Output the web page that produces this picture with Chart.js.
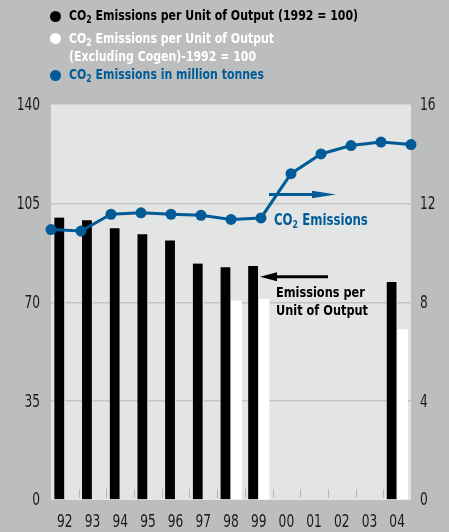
<!DOCTYPE html>
<html>
<head>
<meta charset="utf-8">
<script src="https://cdn.jsdelivr.net/npm/chart.js@4"></script>
<style>
  html, body { margin: 0; padding: 0; background: #bbbebd; }
  #wrap { position: relative; width: 449px; height: 532px; overflow: hidden; }
  canvas { position: absolute; left: 0; top: 0; }
  .txt {
    position: absolute;
    font-family: "DejaVu Sans Condensed", "DejaVu Sans", sans-serif;
    font-stretch: condensed;
    font-weight: bold;
    font-size: 14px;
    line-height: 18px;
    white-space: nowrap;
    transform: scaleX(0.87);
    transform-origin: 0 0;
  }
  .txt sub { font-size: 10px; vertical-align: -3px; line-height: 0; }
  .dot {
    position: absolute;
    width: 11px; height: 11px;
    border-radius: 50%;
  }
</style>
</head>
<body>
<div id="wrap">
  <canvas id="co2Chart" width="449" height="532"></canvas>

  <!-- legend -->
  <div class="dot" style="left:50px; top:11px; background:#000;"></div>
  <div class="txt" style="left:69px; top:6px; color:#000;">CO<sub>2</sub> Emissions per Unit of Output (1992 = 100)</div>
  <div class="dot" style="left:50px; top:33px; background:#fff;"></div>
  <div class="txt" style="left:69px; top:29px; color:#fff;">CO<sub>2</sub> Emissions per Unit of Output<br>(Excluding Cogen)-1992 = 100</div>
  <div class="dot" style="left:50px; top:70px; background:#005b97;"></div>
  <div class="txt" style="left:69px; top:65px; color:#005b97;">CO<sub>2</sub> Emissions in million tonnes</div>

  <!-- callouts -->
  <div class="txt" style="left:274px; top:211px; color:#005b97; font-size:15px;">CO<sub>2</sub> Emissions</div>
  <div class="txt" style="left:276px; top:283px; color:#000; font-size:14.5px;">Emissions per<br>Unit of Output</div>
</div>

<script>
// years on the x axis
const years = ["92", "93", "94", "95", "96", "97", "98", "99", "00", "01", "02", "03", "04"];

// index, 1992 = 100
const perUnitOutput = [100, 99, 96.2, 94.1, 91.9, 83.7, 82.4, 82.8, null, null, null, null, 77.2];
const perUnitExclCogen = [null, null, null, null, null, null, 70.5, 71.1, null, null, null, null, 60.3];

// million tonnes
const co2Tonnes = [10.94, 10.88, 11.56, 11.62, 11.56, 11.52, 11.35, 11.41, 13.2, 14.0, 14.34, 14.48, 14.38];

const leftTicks = [0, 35, 70, 105, 140];
const rightTicks = [0, 4, 8, 12, 16];

const BLUE = "#005b97";
const PANEL = "#e3e5e4";
const TICK_FONT = "17px 'DejaVu Sans Condensed', 'DejaVu Sans', sans-serif";
const SQUEEZE = 0.8; // horizontal squeeze for the narrow tick figures

// light panel behind the plot + small boundary ticks along the bottom
const panelPlugin = {
  id: "panel",
  beforeDraw(chart) {
    const { ctx, chartArea } = chart;
    ctx.save();
    ctx.fillStyle = PANEL;
    ctx.fillRect(chartArea.left, chartArea.top, chartArea.right - chartArea.left, chartArea.bottom - chartArea.top);
    ctx.restore();
  },
  beforeDatasetsDraw(chart) {
    const { ctx, chartArea, scales } = chart;
    ctx.save();
    ctx.strokeStyle = "#b3b6b5";
    ctx.lineWidth = 1;
    for (let i = 1; i < years.length; i++) {
      const x = Math.round((scales.x.getPixelForTick(i - 1) + scales.x.getPixelForTick(i)) / 2) + 0.5;
      ctx.beginPath();
      ctx.moveTo(x, chartArea.bottom - 11);
      ctx.lineTo(x, chartArea.bottom - 2);
      ctx.stroke();
    }
    ctx.restore();
  },
};

// tick labels, drawn squeezed so the figures come out narrow
function squeezedText(ctx, text, x, y, align) {
  ctx.save();
  ctx.translate(x, y);
  ctx.scale(SQUEEZE, 1);
  ctx.textAlign = align;
  ctx.fillText(text, 0, 0);
  ctx.restore();
}

const tickPlugin = {
  id: "tickLabels",
  afterDraw(chart) {
    const { ctx, chartArea, scales } = chart;
    ctx.save();
    ctx.font = TICK_FONT;
    ctx.fillStyle = "#1a1a1a";
    ctx.textBaseline = "middle";
    leftTicks.forEach((v) => squeezedText(ctx, String(v), chartArea.left - 11, scales.y.getPixelForValue(v) + 1, "right"));
    rightTicks.forEach((v) => squeezedText(ctx, String(v), chartArea.right + 9, scales.y1.getPixelForValue(v) + 1, "left"));
    years.forEach((label, i) => squeezedText(ctx, label, scales.x.getPixelForTick(i), chartArea.bottom + 23, "center"));
    ctx.restore();
  },
};

// callout arrows
function arrow(ctx, x1, x2, y, color, headLen, headHalf) {
  // x2 is the tip
  const dir = Math.sign(x2 - x1);
  ctx.strokeStyle = color;
  ctx.fillStyle = color;
  ctx.lineWidth = 3;
  ctx.beginPath();
  ctx.moveTo(x1, y);
  ctx.lineTo(x2 - dir * headLen, y);
  ctx.stroke();
  ctx.beginPath();
  ctx.moveTo(x2, y);
  ctx.lineTo(x2 - dir * headLen, y - headHalf);
  ctx.lineTo(x2 - dir * headLen, y + headHalf);
  ctx.closePath();
  ctx.fill();
}

const arrowPlugin = {
  id: "arrows",
  afterDatasetsDraw(chart) {
    const { ctx, scales } = chart;
    ctx.save();
    arrow(ctx, 269, 336, scales.y1.getPixelForValue(12.36), BLUE, 24, 3.7);
    arrow(ctx, 328, 260, scales.y.getPixelForValue(79.0), "#000", 17, 4.5);
    ctx.restore();
  },
};

const ctx = document.getElementById("co2Chart").getContext("2d");
new Chart(ctx, {
  type: "bar",
  data: {
    labels: years,
    datasets: [
      {
        type: "line",
        label: "CO2 Emissions in million tonnes",
        data: co2Tonnes,
        xAxisID: "x2",
        yAxisID: "y1",
        borderColor: BLUE,
        backgroundColor: BLUE,
        borderWidth: 3,
        pointRadius: 5.5,
        pointBackgroundColor: BLUE,
        pointBorderWidth: 0,
        tension: 0,
        clip: false,
        order: 0,
      },
      {
        type: "bar",
        label: "CO2 Emissions per Unit of Output (1992 = 100)",
        data: perUnitOutput,
        backgroundColor: "#000",
        // thin panel-coloured strip on the inner side keeps the pair apart
        borderColor: PANEL,
        borderWidth: { top: 0, right: 1, bottom: 0, left: 0 },
        borderSkipped: false,
        barThickness: 10.5,
        xAxisID: "x",
        yAxisID: "y",
        order: 1,
      },
      {
        type: "bar",
        label: "CO2 Emissions per Unit of Output (Excluding Cogen)-1992 = 100",
        data: perUnitExclCogen,
        backgroundColor: "#fff",
        barThickness: 10.5,
        xAxisID: "x",
        yAxisID: "y",
        order: 2,
      },
    ],
  },
  options: {
    responsive: false,
    animation: false,
    layout: { padding: { top: 104.5, left: 0, right: 0, bottom: 0 } },
    plugins: {
      legend: { display: false },
      tooltip: { enabled: false },
    },
    scales: {
      x: {
        type: "category",
        offset: true,
        grid: { display: false },
        border: { display: false },
        ticks: { display: false },
        afterFit: (scale) => { scale.height = 32; },
      },
      x2: {
        type: "category",
        labels: years,
        offset: false,
        display: false,
      },
      y: {
        position: "left",
        min: 0,
        max: 140,
        afterBuildTicks: (scale) => { scale.ticks = leftTicks.map((v) => ({ value: v })); },
        grid: {
          color: (c) => (c.tick && (c.tick.value === 0 || c.tick.value === 140) ? "rgba(0,0,0,0)" : "#c4c6c5"),
          lineWidth: 1.5,
          drawTicks: false,
        },
        border: { display: false },
        ticks: { display: false },
        afterFit: (scale) => { scale.width = 51; },
      },
      y1: {
        position: "right",
        min: 0,
        max: 16,
        afterBuildTicks: (scale) => { scale.ticks = rightTicks.map((v) => ({ value: v })); },
        grid: { display: false, drawTicks: false },
        border: { display: false },
        ticks: { display: false },
        afterFit: (scale) => { scale.width = 38; },
      },
    },
  },
  plugins: [panelPlugin, arrowPlugin, tickPlugin],
});
</script>
</body>
</html>
